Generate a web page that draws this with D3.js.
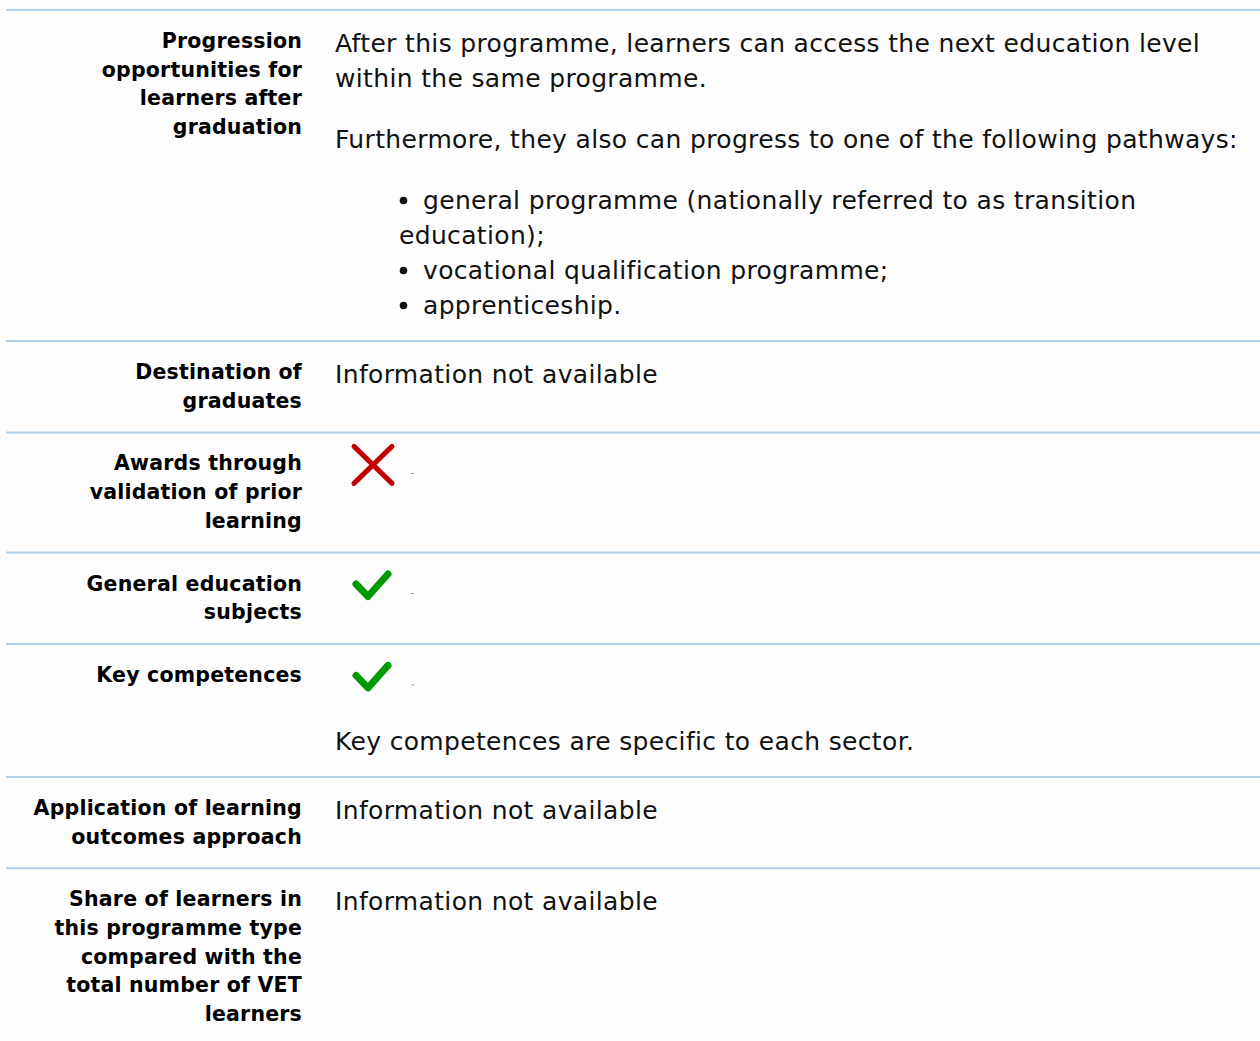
<!DOCTYPE html>
<html>
<head>
<meta charset="utf-8">
<script src="https://cdn.jsdelivr.net/npm/d3@7"></script>
<style>
  html, body { margin: 0; padding: 0; background: #fdfdfd; }
  svg { display: block; }
</style>
</head>
<body>
<script>
// ---- data ----
const rowLabels = [
  ["Progression", "opportunities for", "learners after", "graduation"],
  ["Destination of", "graduates"],
  ["Awards through", "validation of prior", "learning"],
  ["General education", "subjects"],
  ["Key competences"],
  ["Application of learning", "outcomes approach"],
  ["Share of learners in", "this programme type", "compared with the", "total number of VET", "learners"]
];

const rowContents = [
  [
    { type: "p", lines: ["After this programme, learners can access the next education level", "within the same programme."] },
    { type: "p", lines: ["Furthermore, they also can progress to one of the following pathways:"] },
    { type: "list", items: [
      ["general programme (nationally referred to as transition", "education);"],
      ["vocational qualification programme;"],
      ["apprenticeship."]
    ] }
  ],
  [ { type: "p", lines: ["Information not available"] } ],
  [ { type: "icon", kind: "cross" } ],
  [ { type: "icon", kind: "check" } ],
  [ { type: "icon", kind: "check" }, { type: "p", lines: ["Key competences are specific to each sector."] } ],
  [ { type: "p", lines: ["Information not available"] } ],
  [ { type: "p", lines: ["Information not available"] } ]
];

// ---- layout constants ----
const W = 1260, H = 1041;
const font = "'DejaVu Sans', 'Noto Sans', sans-serif";
const labelSize = 20.5, labelLH = 28.7, labelBase = 22.0, labelLS = 0.2;
const bodySize = 25, bodyLH = 35, bodyBase = 26.0, bodyLS = 0.34;
const blockGap = 26, iconBlock = 38;
const padTop = 16, padBottom = 18;
const firstLineY = 10;
const labelRight = 302, bodyLeft = 335, listIndent = 64, bulletTextGap = 24;
const lineColor = "#b5d0ea";

function blockHeight(b) {
  if (b.type === "p") return b.lines.length * bodyLH;
  if (b.type === "list") return d3.sum(b.items, it => it.length) * bodyLH;
  return iconBlock;
}

const svg = d3.select("body").append("svg")
  .attr("width", W).attr("height", H)
  .attr("viewBox", `0 0 ${W} ${H}`);

svg.append("rect").attr("width", W).attr("height", H).attr("fill", "#fdfdfd");

let y = firstLineY;
rowLabels.forEach((label, i) => {
  const content = rowContents[i];
  svg.append("line")
    .attr("x1", 6).attr("x2", W)
    .attr("y1", y).attr("y2", y)
    .attr("stroke", lineColor).attr("stroke-width", 2);

  const innerTop = y + padTop;
  const g = svg.append("g");

  g.selectAll("text.lbl").data(label).join("text")
    .attr("class", "lbl")
    .attr("x", labelRight)
    .attr("y", (d, k) => innerTop + labelBase + k * labelLH)
    .attr("text-anchor", "end")
    .attr("font-family", font).attr("font-weight", "bold")
    .attr("font-size", labelSize).attr("letter-spacing", labelLS).attr("fill", "#000")
    .text(d => d);

  let cy = innerTop;
  content.forEach((b, bi) => {
    if (bi > 0) cy += blockGap;
    if (b.type === "p") {
      g.selectAll(null).data(b.lines).join("text")
        .attr("x", bodyLeft)
        .attr("y", (d, k) => cy + bodyBase + k * bodyLH)
        .attr("font-family", font).attr("font-size", bodySize)
        .attr("letter-spacing", bodyLS).attr("fill", "#111")
        .text(d => d);
    } else if (b.type === "list") {
      const flat = [];
      b.items.forEach(it => it.forEach((ln, k) => flat.push({ text: ln, first: k === 0 })));
      const x0 = bodyLeft + listIndent;
      g.selectAll(null).data(flat).join("text")
        .attr("x", d => d.first ? x0 + bulletTextGap : x0)
        .attr("y", (d, k) => cy + bodyBase + k * bodyLH)
        .attr("font-family", font).attr("font-size", bodySize)
        .attr("letter-spacing", bodyLS).attr("fill", "#111")
        .text(d => d.text);
      g.selectAll(null).data(flat.map((d, k) => ({ ...d, k })).filter(d => d.first)).join("circle")
        .attr("cx", x0 + 4.5)
        .attr("cy", d => cy + bodyBase + d.k * bodyLH - 8.5)
        .attr("r", 3.8)
        .attr("fill", "#111");
    } else if (b.type === "icon") {
      const cx = bodyLeft + 38, icy = cy + 16.5;
      if (b.kind === "cross") {
        const path = d3.path();
        path.moveTo(cx - 19, icy - 18.5); path.lineTo(cx + 19, icy + 18.5);
        path.moveTo(cx + 19, icy - 18.5); path.lineTo(cx - 19, icy + 18.5);
        g.append("path").attr("d", path.toString())
          .attr("stroke", "#c00000").attr("stroke-width", 5)
          .attr("stroke-linecap", "round").attr("fill", "none");
      } else {
        const path = d3.path();
        path.moveTo(cx - 17, icy - 1); path.lineTo(cx - 5, icy + 11.5); path.lineTo(cx + 15, icy - 11);
        g.append("path").attr("d", path.toString())
          .attr("stroke", "#009a00").attr("stroke-width", 7)
          .attr("stroke-linecap", "round").attr("stroke-linejoin", "round").attr("fill", "none");
      }
      g.append("rect").attr("x", cx + 38).attr("y", icy + 8).attr("width", 3).attr("height", 1)
        .attr("fill", "#999");
    }
    cy += blockHeight(b);
  });

  const labelH = label.length * labelLH;
  const contentH = cy - innerTop;
  y = innerTop + Math.max(labelH, contentH) + padBottom;
});
</script>
</body>
</html>
